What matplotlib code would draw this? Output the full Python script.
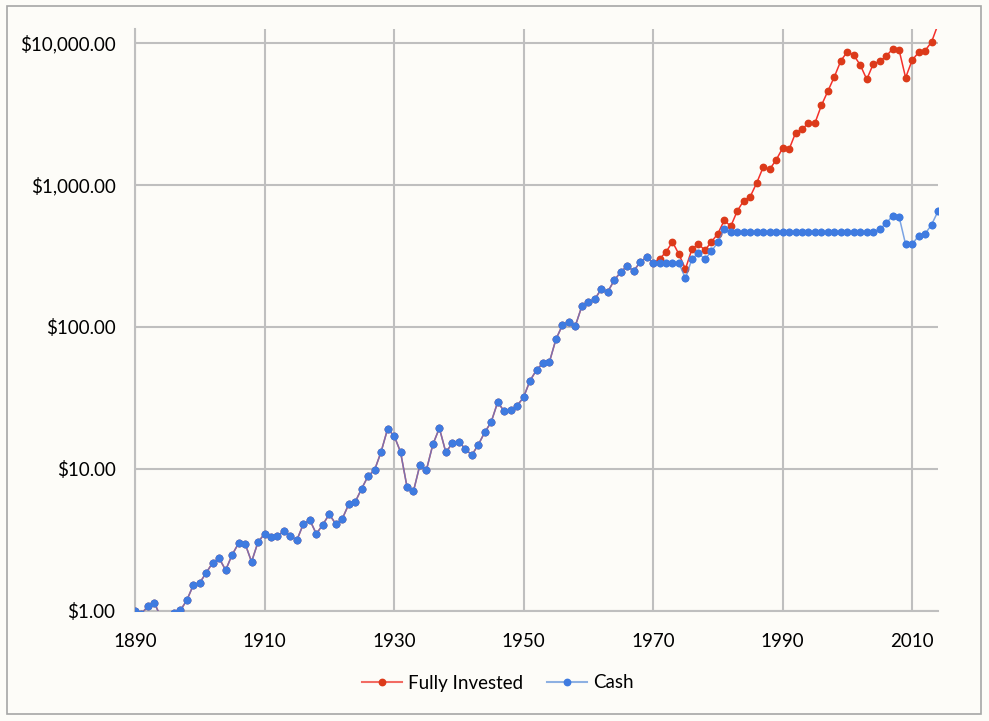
import matplotlib
matplotlib.use("Agg")
import matplotlib.pyplot as plt
from matplotlib.patches import Rectangle
from matplotlib.ticker import FixedLocator, FuncFormatter
import numpy as np

plt.rcParams['font.family'] = ['Lato', 'DejaVu Sans']

start_year = 1890
# Shared history (both series identical) 1890-1970
common_values = [
    1.00, 0.96, 1.08, 1.14, 0.90, 0.88, 0.97, 1.01, 1.19, 1.52,
    1.58, 1.86, 2.19, 2.35, 1.94, 2.49, 3.00, 2.98, 2.22, 3.06,
    3.49, 3.34, 3.37, 3.66, 3.37, 3.16, 4.10, 4.37, 3.49, 4.06,
    4.80, 4.10, 4.45, 5.64, 5.86, 7.27, 8.93, 9.84, 13.2, 19.1,
    17.2, 13.2, 7.5, 6.97, 10.7, 9.84, 14.9, 19.4, 13.1, 15.2,
    15.5, 13.9, 12.5, 14.8, 18.1, 21.4, 29.5, 25.6, 25.9, 27.9,
    32.0, 41.9, 49.8, 55.8, 56.8, 81.9, 103, 109, 102, 140,
    149, 157, 185, 177, 213, 244, 269, 248, 286, 311,
    281,
]
# 1971-2014
invested_after = [
    301, 338, 397, 325, 256, 353, 384, 347, 397, 454,
    564, 512, 656, 776, 828, 1033, 1333, 1290, 1500, 1815,
    1782, 2323, 2466, 2733, 2733, 3640, 4590, 5790, 7500, 8680,
    8190, 6995, 5545, 7110, 7430, 8090, 9080, 8890, 5700, 7550,
    8590, 8830, 10160, 13500,
]
cash_after = [
    281, 281, 281, 281, 220, 301, 332, 300, 341, 395,
    488, 464, 464, 464, 464, 464, 464, 464, 464, 464,
    464, 464, 464, 464, 464, 464, 464, 464, 464, 464,
    464, 464, 464, 464, 490, 537, 608, 595, 382, 382,
    439, 452, 525, 653,
]
series_names = ["Fully Invested", "Cash"]
x_ticks = [1890, 1910, 1930, 1950, 1970, 1990, 2010]
y_ticks = [1, 10, 100, 1000, 10000]

invested = common_values + invested_after
cash = common_values + cash_after
years = np.arange(start_year, start_year + len(invested))

bg = '#FDFCF8'
fs = 13.5
ms = 4.6
fig = plt.figure(figsize=(9.89, 7.21), dpi=100, facecolor=bg)
fig.patches.append(Rectangle((7/989, 1-714/721), (981-7)/989, (714-6)/721,
                             transform=fig.transFigure, fill=False,
                             edgecolor='#A6A6A6', linewidth=1.2))

ax = fig.add_axes([135/989, 1-611/721, (938-135)/989, (611-29)/721])
ax.set_facecolor(bg)

ax.plot(years, invested, color='#F5302A', lw=1.1, marker='o', markersize=ms,
        markerfacecolor='#DC3A1A', markeredgecolor='#DC3A1A', label=series_names[0], zorder=3)
ax.plot(years, cash, color='#4F86DC', lw=1.1, alpha=0.75, marker='o', markersize=ms,
        markerfacecolor='#3F7BE0', markeredgecolor='#3F7BE0', label=series_names[1], zorder=4)
# re-draw cash markers at full opacity
ax.plot(years, cash, linestyle='none', marker='o', markersize=ms,
        markerfacecolor='#3F7BE0', markeredgecolor='#3F7BE0', zorder=5)

ax.set_yscale('log')
ax.set_xlim(1890, 2014)
ax.set_ylim(1, 10 ** (4 + 14/142))

ax.xaxis.set_major_locator(FixedLocator(x_ticks))
ax.yaxis.set_major_locator(FixedLocator(y_ticks))
ax.yaxis.set_minor_locator(FixedLocator([]))
ax.yaxis.set_major_formatter(FuncFormatter(lambda v, p: "${:,.2f}".format(v)))
ax.grid(True, which='major', color='#BFBFBF', linewidth=1.5, zorder=0)
ax.set_axisbelow(True)
for s in ['top', 'right']:
    ax.spines[s].set_visible(False)
for s in ['left', 'bottom']:
    ax.spines[s].set_color('#BFBFBF')
    ax.spines[s].set_linewidth(1.5)
ax.tick_params(axis='both', length=0, labelsize=fs, colors='black')
ax.tick_params(axis='y', pad=14)
ax.tick_params(axis='x', pad=16)

handles = [
    plt.Line2D([], [], color='#F26B63', lw=1.5, marker='o', markersize=ms,
               markerfacecolor='#DC3A1A', markeredgecolor='#DC3A1A'),
    plt.Line2D([], [], color='#8DB0E2', lw=1.5, marker='o', markersize=ms,
               markerfacecolor='#3F7BE0', markeredgecolor='#3F7BE0'),
]
fig.legend(handles, series_names, loc='center', bbox_to_anchor=(498/989, 1-683/721),
           ncol=2, frameon=False, fontsize=fs, handlelength=2.13, columnspacing=1.25,
           handletextpad=0.35)

fig.savefig('out.png', dpi=100, facecolor=bg)
